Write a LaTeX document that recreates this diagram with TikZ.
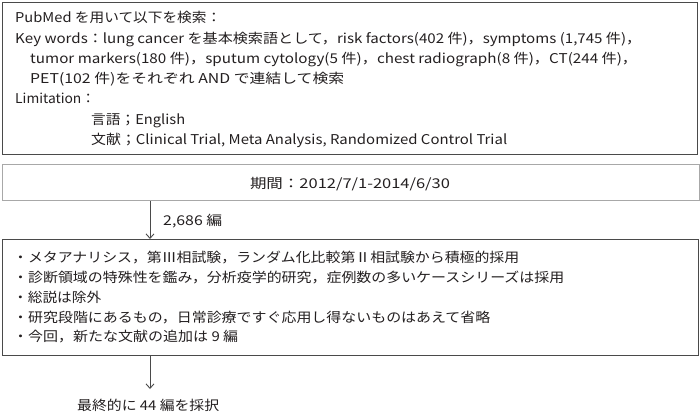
\documentclass[tikz,border=0pt]{standalone}
\usepackage{fontspec}
\usepackage{graphicx}
\setmainfont{Noto Sans CJK JP}
\usetikzlibrary{arrows.meta}
\definecolor{txt}{HTML}{231F20}
\definecolor{dark}{HTML}{4A4A4A}
\definecolor{light}{HTML}{A8A8A8}
\newcommand{\fitto}[2]{\resizebox{#1pt}{\height}{#2}}
\tikzset{
  boxdark/.style={draw=dark, line width=1.2pt, rectangle, inner sep=0pt},
  boxlight/.style={draw=light, line width=1.4pt, rectangle, inner sep=0pt},
  txtline/.style={anchor=base west, inner sep=0pt, text=txt, font=\fontsize{13.5}{16}\selectfont},
  txtc/.style={anchor=base, inner sep=0pt, text=txt, font=\fontsize{13.5}{16}\selectfont},
  arr/.style={draw=dark, line width=0.9pt, -{Straight Barb[length=4.5pt,width=8pt]}}
}
\begin{document}
\begin{tikzpicture}[x=1pt,y=-1pt]
\useasboundingbox (0,0) rectangle (700,413);
% boxes
\node[boxdark, minimum width=695.5pt, minimum height=152.5pt, anchor=north west] (top) at (1.5,1.5) {};
\node[boxlight, minimum width=697pt, minimum height=36.5pt, anchor=north west] (mid) at (1.5,163.5) {};
\node[boxdark, minimum width=696.5pt, minimum height=115.5pt, anchor=north west] (bot) at (1.5,239) {};
% top box text
\node[txtline] (t1) at (15,22.7) {\fitto{206}{PubMed を用いて以下を検索：}};
\node[txtline] (t2) at (15,43) {\fitto{626}{Key words：lung cancer を基本検索語として，risk factors(402 件)，symptoms (1,745 件)，}};
\node[txtline] (t3) at (30,63.3) {\fitto{607}{tumor markers(180 件)，sputum cytology(5 件)，chest radiograph(8 件)，CT(244 件)，}};
\node[txtline] (t4) at (30,83.5) {\fitto{314}{PET(102 件)をそれぞれ AND で連結して検索}};
\node[txtline] (t5) at (15,103.7) {\fitto{80}{Limitation：}};
\node[txtline] (t6) at (91,124) {\fitto{94}{言語；English}};
\node[txtline] (t7) at (91,144.2) {\fitto{416}{文献；Clinical Trial, Meta Analysis, Randomized Control Trial}};
% middle
\node[txtc] (m1) at (350,188) {\fitto{200}{期間：2012/7/1-2014/6/30}};
% arrows
\coordinate (ax) at (150,0);
\coordinate (tip) at (150,389);
\draw[arr] (mid.south -| ax) -- (bot.north -| ax);
\node[txtline] (l1) at (163,225) {\fitto{59}{2,686 編}};
% bottom box text
\node[txtline] (b1) at (13,262) {\fitto{506}{・メタアナリシス，第Ⅲ相試験，ランダム化比較第Ⅱ相試験から積極的採用}};
\node[txtline] (b2) at (13,282) {\fitto{551}{・診断領域の特殊性を鑑み，分析疫学的研究，症例数の多いケースシリーズは採用}};
\node[txtline] (b3) at (13,302) {\fitto{88}{・総説は除外}};
\node[txtline] (b4) at (13,322) {\fitto{477}{・研究段階にあるもの，日常診療ですぐ応用し得ないものはあえて省略}};
\node[txtline] (b5) at (13,341) {\fitto{225}{・今回，新たな文献の追加は 9 編}};
\draw[arr] (bot.south -| ax) -- (tip);
\node[txtline] (fin) at (77,410) {\fitto{142}{最終的に 44 編を採択}};
\end{tikzpicture}
\end{document}
